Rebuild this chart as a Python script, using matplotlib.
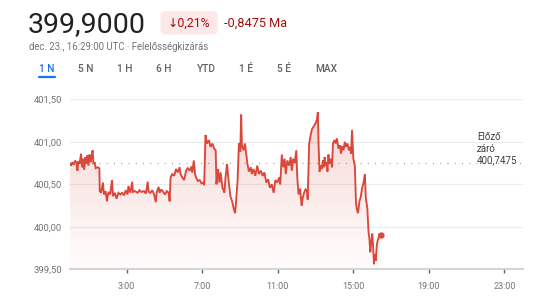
import matplotlib
matplotlib.use("Agg")
import matplotlib.pyplot as plt
import numpy as np
from matplotlib.patches import FancyBboxPatch, Polygon
from matplotlib.lines import Line2D

plt.rcParams['font.family'] = ['Roboto', 'DejaVu Sans']

# ---- data ----
times = [0.00, 0.05, 0.12, 0.19, 0.27, 0.34, 0.39, 0.43, 0.50, 0.58, 0.63, 0.68, 0.75, 0.80,
         0.87, 0.92, 0.97, 1.03, 1.08, 1.14, 1.19, 1.24, 1.30, 1.35, 1.45, 1.55, 1.57,
         1.64, 1.74, 1.79, 1.88, 1.95, 2.03, 2.12, 2.22, 2.27, 2.37, 2.46, 2.56, 2.66, 2.75,
         2.85, 2.95, 3.04, 3.09, 3.19, 3.29, 3.33, 3.43, 3.58, 3.67, 3.77, 3.91, 4.01, 4.11,
         4.16, 4.25, 4.35, 4.45, 4.54, 4.59, 4.69, 4.74, 4.83, 4.93, 5.03, 5.12, 5.22, 5.27, 5.32,
         5.41, 5.51, 5.61, 5.70, 5.80, 5.85, 5.94, 6.04, 6.14, 6.23, 6.33, 6.43, 6.47, 6.55,
         6.62, 6.67, 6.76, 6.86, 6.96, 7.06, 7.10, 7.17, 7.25, 7.35, 7.44, 7.54, 7.63, 7.71,
         7.75, 7.83, 7.91, 7.97, 8.07, 8.17, 8.23, 8.31, 8.39, 8.49, 8.58, 8.68, 8.74, 8.79,
         8.87, 8.94, 9.01, 9.06, 9.10, 9.18, 9.26, 9.33, 9.39, 9.47, 9.57, 9.62, 9.71, 9.81,
         9.91, 10.00, 10.10, 10.20, 10.29, 10.39, 10.49, 10.58, 10.68, 10.78, 10.87, 10.97,
         11.07, 11.13, 11.21, 11.29, 11.36, 11.42, 11.50, 11.60, 11.68, 11.74, 11.81, 11.89,
         11.98, 12.03, 12.10, 12.18, 12.26, 12.32, 12.39, 12.47, 12.55, 12.58, 12.66, 12.74,
         12.81, 12.90, 13.00, 13.07, 13.12, 13.16, 13.21, 13.26, 13.32, 13.39, 13.43, 13.48,
         13.53, 13.58, 13.63, 13.68, 13.72, 13.80, 13.87, 13.92, 14.00, 14.06, 14.13, 14.21,
         14.29, 14.35, 14.40, 14.48, 14.55, 14.61, 14.69, 14.77, 14.84, 14.88, 14.93, 15.00,
         15.08, 15.14, 15.19, 15.25, 15.32, 15.39, 15.46, 15.54, 15.61, 15.66, 15.74, 15.80,
         15.85, 15.90, 15.95, 16.00, 16.04, 16.09, 16.14, 16.19, 16.24, 16.29, 16.33, 16.38,
         16.43, 16.48]
prices = [400.74, 400.72, 400.76, 400.73, 400.78, 400.75, 400.66, 400.77, 400.74, 400.86,
          400.70, 400.80, 400.67, 400.82, 400.74, 400.84, 400.72, 400.85, 400.76, 400.82,
          400.90, 400.74, 400.76, 400.69, 400.70, 400.69, 400.42,
          400.40, 400.52, 400.38, 400.42, 400.30, 400.41, 400.38, 400.55, 400.36, 400.40,
          400.33, 400.40, 400.38, 400.40, 400.37, 400.43, 400.38, 400.48, 400.40, 400.53,
          400.41, 400.42, 400.40, 400.43, 400.41, 400.42, 400.39, 400.53, 400.41, 400.40,
          400.43, 400.38, 400.29, 400.41, 400.47, 400.40, 400.44, 400.41, 400.38, 400.42,
          400.40, 400.30, 400.58,
          400.62, 400.60, 400.68, 400.64, 400.70, 400.62, 400.58, 400.55, 400.66, 400.69,
          400.66, 400.71, 400.64, 400.78, 400.62, 400.58, 400.54, 400.55, 400.51, 400.52,
          400.49, 401.08, 400.98, 401.02, 400.94, 400.98, 400.92, 400.90,
          400.50, 400.68, 400.52, 400.64, 400.46, 400.40, 400.58, 400.74, 400.55, 400.36,
          400.30, 400.20, 400.16, 400.30, 400.55, 400.98, 400.88, 401.32, 400.95, 400.90,
          400.98, 400.85, 400.74, 400.65, 400.70, 400.62, 400.68, 400.60, 400.72, 400.62,
          400.66, 400.60, 400.64, 400.52, 400.56, 400.46, 400.50, 400.40, 400.55, 400.52,
          400.58, 400.50, 400.85, 400.70, 400.80, 400.62, 400.78, 400.72, 400.82, 400.66,
          400.80, 400.75, 400.90, 400.58, 400.38, 400.45, 400.25, 400.34, 400.40, 400.44,
          400.42, 400.32, 400.98, 401.08, 401.15, 401.18, 401.22, 401.26, 401.35, 400.95,
          400.65, 400.72, 400.68, 400.78, 400.70, 400.82, 400.72, 400.76, 400.65, 400.85,
          400.74, 400.80, 400.70, 400.98, 401.02, 400.98, 401.04, 400.92, 400.96, 400.86,
          400.95, 400.90, 401.00, 400.94, 400.98, 400.90, 400.94, 400.86, 401.14, 400.80,
          400.72, 400.28, 400.20, 400.16, 400.30, 400.35, 400.45, 400.52, 400.62, 400.34,
          400.22, 399.95, 399.86, 399.70, 399.82, 399.92, 399.80, 399.56, 399.68, 399.60,
          399.78, 399.84, 399.86, 399.92, 399.90, 399.90]
prev_close = 400.7475
y_ticks = [399.5, 400.0, 400.5, 401.0, 401.5]
y_labels = ["399,50", "400,00", "400,50", "401,00", "401,50"]
x_ticks = [3, 7, 11, 15, 19, 23]
x_labels = ["3:00", "7:00", "11:00", "15:00", "19:00", "23:00"]
tabs = ["1 N", "5 N", "1 H", "6 H", "YTD", "1 É", "5 É", "MAX"]
tab_x = [47, 86, 125, 164, 206, 246, 284, 326]

W, H = 540, 304
fig = plt.figure(figsize=(W / 100, H / 100), dpi=100)
fig.patch.set_facecolor('white')

def fx(x):
    return x / W

def fy(y):
    return 1 - y / H

ax_l, ax_r, ax_t, ax_b = 70.1, 523.3, 99.3, 269.3
ax = fig.add_axes([fx(ax_l), fy(ax_b), fx(ax_r - ax_l), (ax_b - ax_t) / H])
ax.set_xlim(0, 24)
ax.set_ylim(399.5, 401.5)
for s in ax.spines.values():
    s.set_visible(False)
ax.set_facecolor('none')

RED = '#d9483b'
# grid
for v in y_ticks[1:]:
    ax.axhline(v, color='#ebebeb', lw=0.8, zorder=1)
ax.axhline(399.5, color='#d4d4d4', lw=1.5, zorder=3, clip_on=False)
ax.axhline(prev_close, color='#9aa0a6', lw=0.9, ls=(0, (0.8, 5)), zorder=2)

# gradient fill
t = np.array(times)
p = np.array(prices)
verts = [(t[0], 399.5)] + list(zip(t, p)) + [(t[-1], 399.5)]
poly = Polygon(verts, closed=True, facecolor='none', edgecolor='none')
ax.add_patch(poly)
g = np.linspace(0.0, 1.0, 256)
rgba = np.zeros((256, 1, 4))
rgba[:, 0, 0] = 0.85
rgba[:, 0, 1] = 0.28
rgba[:, 0, 2] = 0.23
rgba[:, 0, 3] = 0.02 + 0.22 * g ** 1.2
im = ax.imshow(rgba, extent=[t[0], t[-1], 399.5, 401.35], origin='lower',
               aspect='auto', zorder=2, interpolation='bilinear')
im.set_clip_path(poly)

ax.plot(t, p, color=RED, lw=1.35, zorder=4, solid_joinstyle='miter')
ax.plot([t[-1]], [p[-1]], 'o', color=RED, ms=3.5, zorder=5)

ax.set_yticks(y_ticks)
ax.set_yticklabels(y_labels)
ax.set_xticks(x_ticks)
ax.set_xticklabels(x_labels)
ax.tick_params(axis='y', length=0, pad=6, labelsize=6.8, labelcolor='#70757a')
ax.tick_params(axis='x', length=3, width=1, color='#5f6368', direction='out', pad=6,
               labelsize=6.5, labelcolor='#70757a')

fig.text(fx(477), fy(137), "Előző", fontsize=7, color='#3c4043', ha='left', va='center')
fig.text(fx(477), fy(148.5), "záró", fontsize=7, color='#3c4043', ha='left', va='center')
fig.text(fx(477), fy(160), "400,7475", fontsize=7, color='#3c4043', ha='left', va='center')

# header
fig.text(fx(28), fy(32), "399,9000", fontsize=20.5, color='#202124', ha='left', va='baseline')
badge = FancyBboxPatch((fx(160.5), fy(34.5)), fx(57), 23.5 / H,
                       boxstyle="round,pad=0,rounding_size=0.012",
                       transform=fig.transFigure, facecolor='#fce8e6', edgecolor='none')
fig.patches.append(badge)
fig.text(fx(189), fy(23), "↓0,21%", fontsize=8.9, color='#a50e0e', ha='center', va='center',
         family=['Roboto', 'DejaVu Sans'])
fig.text(fx(224), fy(23), "-0,8475 Ma", fontsize=9.2, color='#a50e0e', ha='left', va='center')
fig.text(fx(29), fy(47), "dec. 23., 16:29:00 UTC · Felelősségkizárás", fontsize=6.9,
         color='#70757a', ha='left', va='center')

for lab, x in zip(tabs, tab_x):
    c = '#1a73e8' if lab == "1 N" else '#5f6368'
    fig.text(fx(x), fy(68.5), lab, fontsize=7.3, color=c, ha='center', va='center',
             fontweight='medium')
fig.lines.append(Line2D([fx(39), fx(55)], [fy(76.5), fy(76.5)], transform=fig.transFigure,
                        color='#1a73e8', lw=1.6, solid_capstyle='round'))

fig.savefig("out.png", dpi=100, facecolor='white')
